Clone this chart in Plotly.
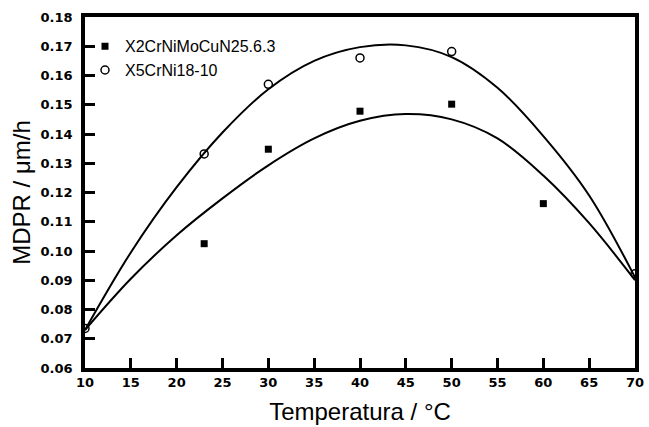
import plotly.graph_objects as go

# Measured points
temp_duplex = [23, 30, 40, 50, 60]
mdpr_duplex = [0.1025, 0.1348, 0.1478, 0.1502, 0.1162]
temp_austen = [10, 23, 30, 40, 50, 70]
mdpr_austen = [0.0735, 0.1332, 0.1570, 0.1660, 0.1682, 0.0922]

# Fitted curves
upper_x = [10, 15, 20, 25, 30, 35, 40, 45, 50, 55, 60, 65, 70]
curve_upper = [0.073, 0.0995, 0.1218, 0.1405, 0.1553, 0.1650, 0.1697, 0.1703,
               0.1663, 0.1558, 0.1393, 0.1190, 0.091]
lower_x = [10, 15, 20, 25, 30, 35, 40, 45, 50, 55, 60, 65, 70]
curve_lower = [0.073, 0.0905, 0.1054, 0.1180, 0.1293, 0.1385, 0.1445, 0.1468,
               0.1450, 0.1385, 0.1258, 0.1095, 0.090]

x_ticks = [10, 15, 20, 25, 30, 35, 40, 45, 50, 55, 60, 65, 70]
y_ticks = [0.06, 0.07, 0.08, 0.09, 0.10, 0.11, 0.12, 0.13, 0.14, 0.15, 0.16, 0.17, 0.18]

TICKFONT = "DejaVu Sans, Arial, sans-serif"
TEXTFONT = "Liberation Sans, Arial, sans-serif"

fig = go.Figure()
for cx, cy in ((upper_x, curve_upper), (lower_x, curve_lower)):
    fig.add_trace(go.Scatter(x=cx, y=cy, mode="lines",
                             line=dict(color="black", width=2, shape="spline", smoothing=1.0),
                             showlegend=False, hoverinfo="skip"))
fig.add_trace(go.Scatter(x=temp_duplex, y=mdpr_duplex, mode="markers", name="X2CrNiMoCuN25.6.3",
                         marker=dict(symbol="square", size=7, color="black")))
fig.add_trace(go.Scatter(x=temp_austen, y=mdpr_austen, mode="markers", name="X5CrNi18-10",
                         marker=dict(symbol="circle-open", size=8, color="black", line=dict(width=1.5))))

fig.update_layout(
    width=649, height=427,
    margin=dict(l=85, r=10, t=16, b=59),
    paper_bgcolor="white", plot_bgcolor="white",
    font=dict(family=TEXTFONT, color="black"),
    legend=dict(x=0.0, y=0.965, xanchor="left", yanchor="top", bgcolor="rgba(0,0,0,0)",
                font=dict(size=16, family=TEXTFONT),
                itemsizing="trace", tracegroupgap=0, itemwidth=30),
)
fig.update_xaxes(
    range=[10, 70], tickvals=x_ticks, ticktext=[str(v) for v in x_ticks], automargin=False,
    ticks="inside", ticklen=10, tickwidth=2.5, tickcolor="black",
    showline=True, linewidth=3.5, linecolor="black", mirror=True, showgrid=False, zeroline=False,
    tickfont=dict(size=13, family=TICKFONT, weight="bold"),
    title=dict(text="Temperatura / °C", font=dict(size=24, family=TEXTFONT), standoff=15),
)
fig.update_yaxes(
    range=[0.06, 0.18], tickvals=y_ticks, ticktext=["%.2f" % v for v in y_ticks],
    ticks="inside", ticklen=10, tickwidth=2.5, tickcolor="black",
    showline=True, linewidth=3.5, linecolor="black", mirror=True, showgrid=False, zeroline=False,
    tickfont=dict(size=13, family=TICKFONT, weight="bold"), ticklabelstandoff=6,
    title=dict(text="MDPR / μm/h", font=dict(size=24, family=TEXTFONT), standoff=4),
)

fig.write_html("out.html")
